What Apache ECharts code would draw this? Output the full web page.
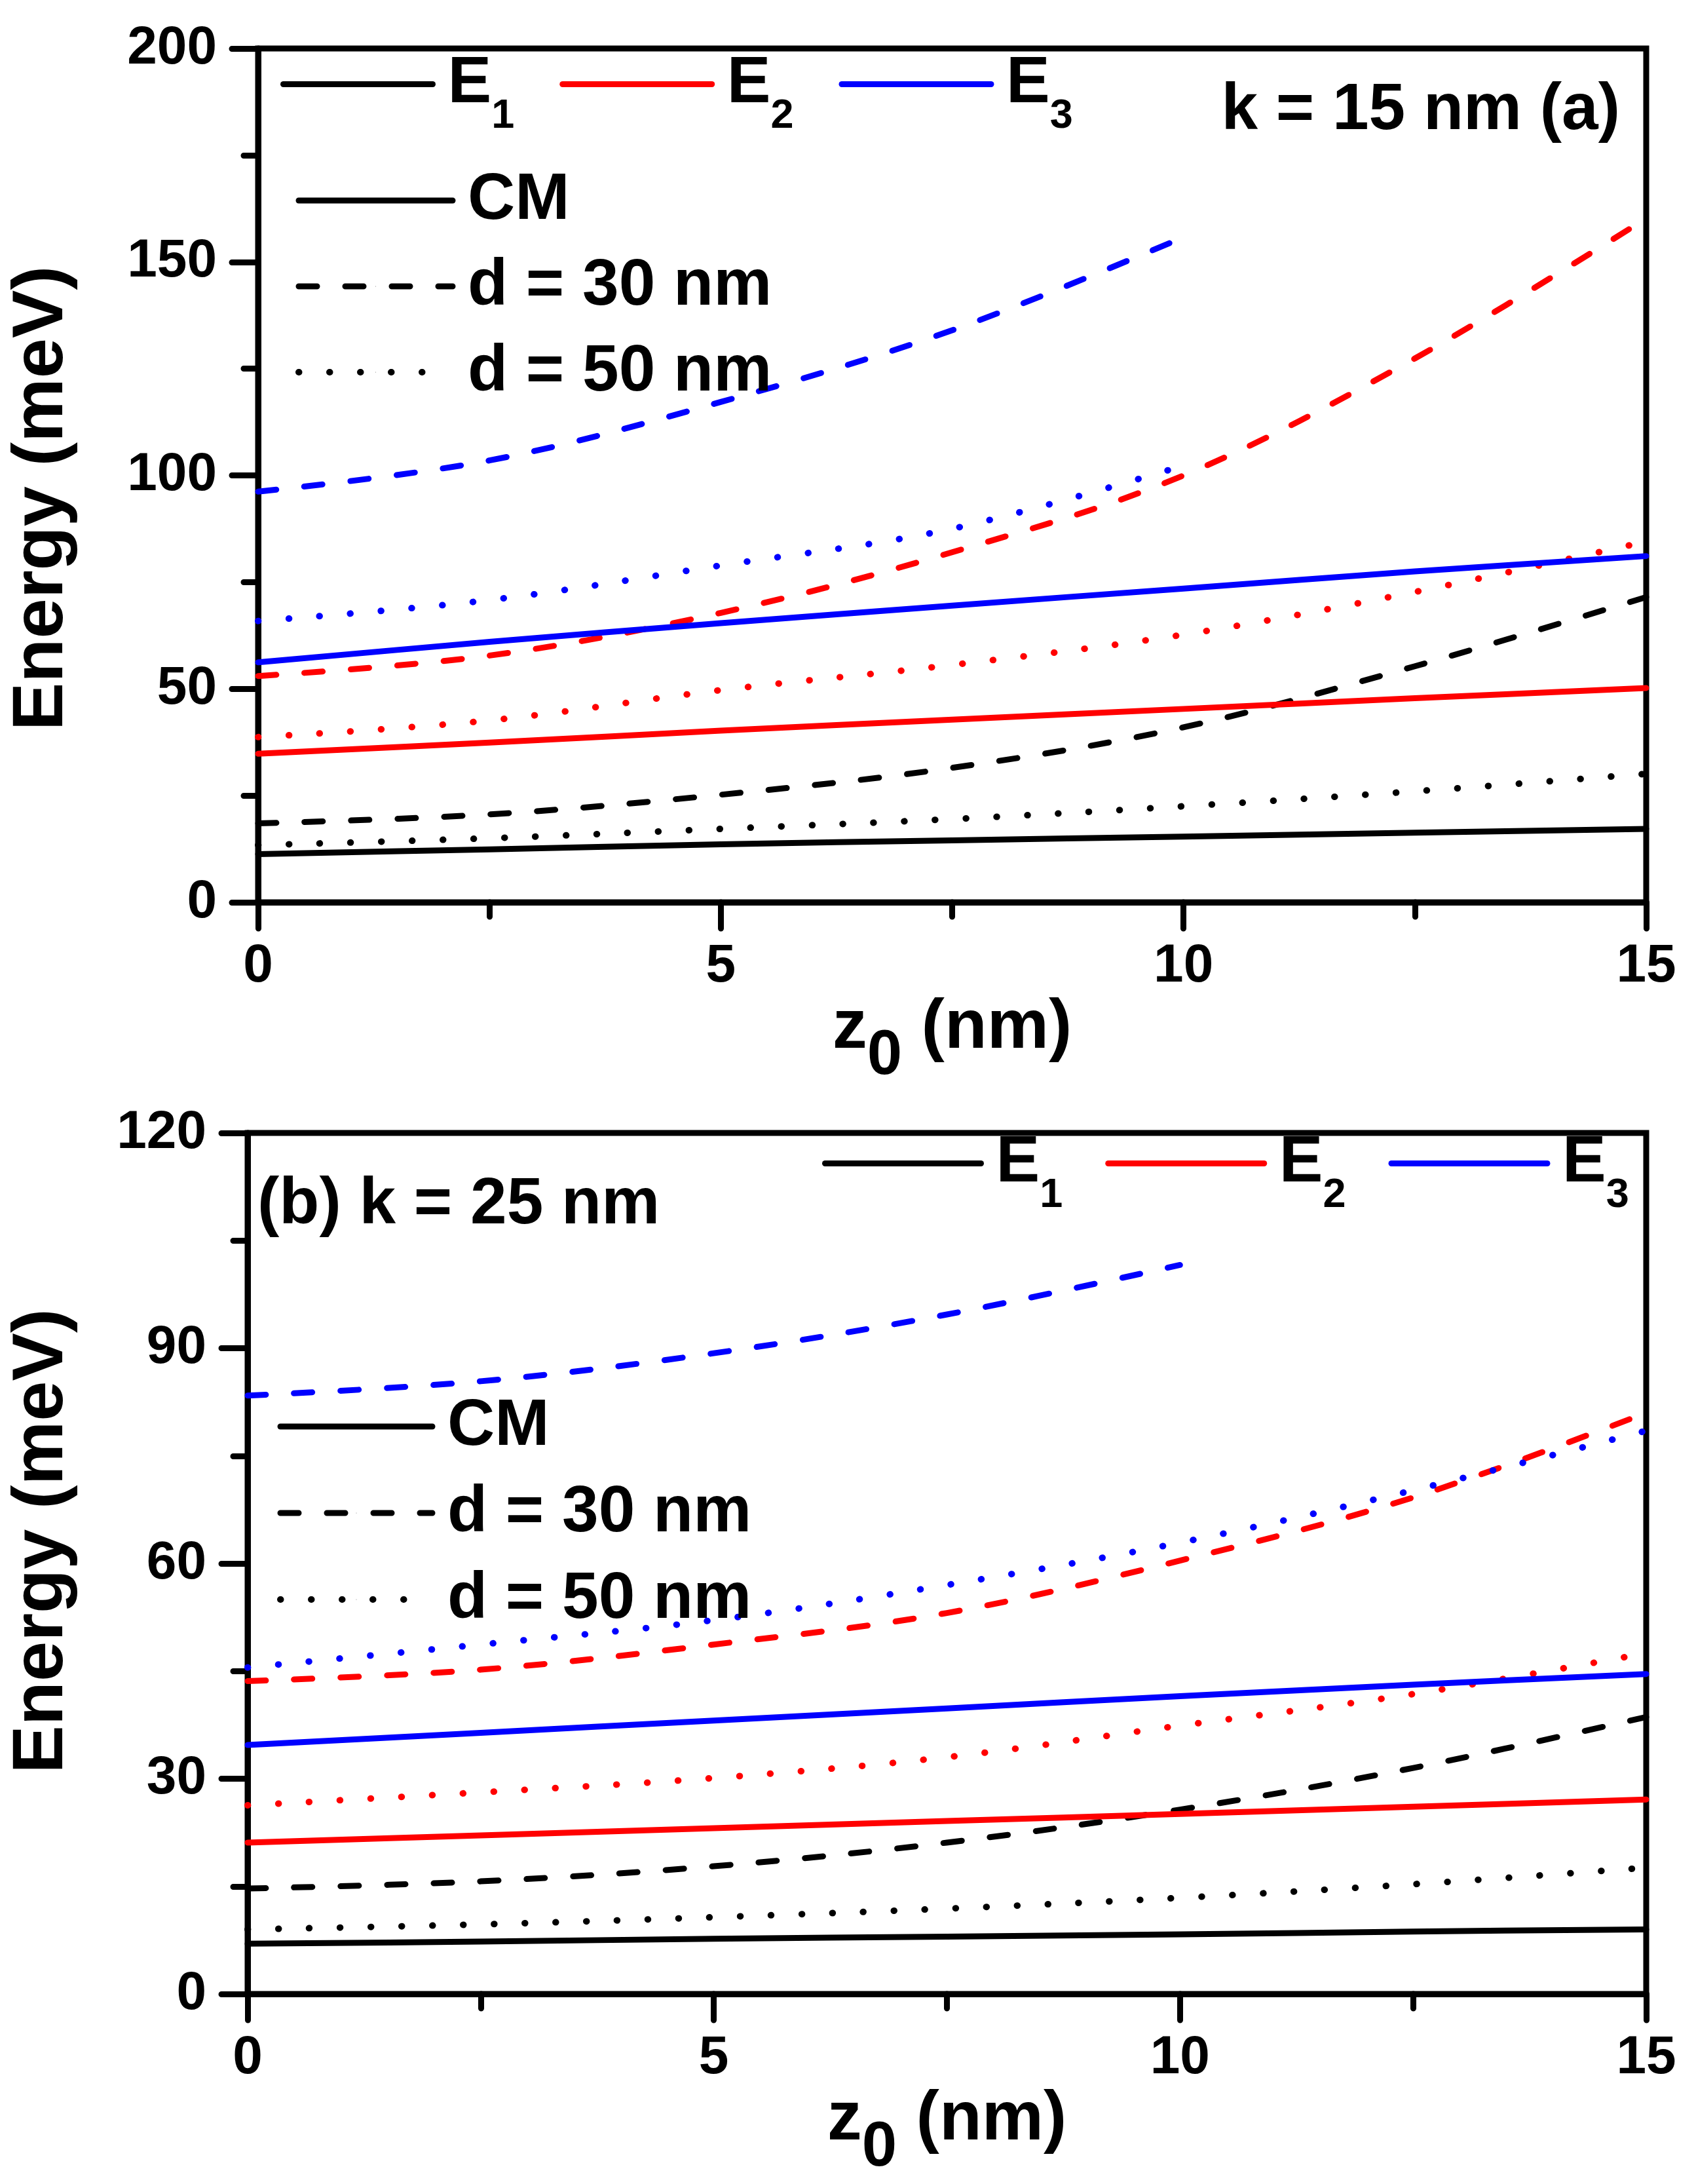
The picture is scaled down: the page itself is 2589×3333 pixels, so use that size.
<!DOCTYPE html>
<html><head><meta charset="utf-8">
<script src="https://cdn.jsdelivr.net/npm/echarts@6/dist/echarts.min.js"></script>
<style>html,body{margin:0;padding:0;background:#fff}#c{width:2589px;height:3333px}</style>
</head><body><div id="c"></div>
<script>
// ---------- data ----------
const zFull = [0, 2.5, 5, 7.5, 10, 12.5, 15];
const zShort = [0, 2.5, 5, 7.5, 10];

// panel (a) k = 15 nm
const a_E1_CM  = [11.3, 12.4, 13.6, 14.5, 15.4, 16.3, 17.2];
const a_E1_d30 = [18.5, 20.6, 25.2, 31.5, 41.0, 55.3, 71.5];
const a_E1_d50 = [13.4, 15.0, 17.2, 19.5, 22.5, 26.0, 30.1];
const a_E2_CM  = [34.8, 37.4, 40.2, 42.8, 45.3, 47.8, 50.2];
const a_E2_d30 = [53.0, 57.8, 67.8, 82.0, 100.0, 127.4, 160.2];
const a_E2_d50 = [38.7, 42.6, 49.7, 55.6, 62.7, 72.7, 84.5];
const a_E3_CM  = [56.2, 61.0, 65.4, 69.5, 73.5, 77.5, 81.1];
const a_E3_d30 = [96.2, 103.5, 117.2, 134.0, 155.8];
const a_E3_d50 = [65.9, 70.8, 78.9, 87.5, 102.3];

// panel (b) k = 25 nm
const b_E1_CM  = [7.0, 7.3, 7.7, 8.0, 8.3, 8.7, 9.0];
const b_E1_d30 = [14.7, 15.7, 17.8, 21.1, 25.7, 31.5, 38.6];
const b_E1_d50 = [9.0, 9.7, 10.7, 11.9, 13.4, 15.3, 17.6];
const b_E2_CM  = [21.1, 22.1, 23.1, 24.1, 25.1, 26.1, 27.1];
const b_E2_d30 = [43.6, 45.2, 48.7, 53.1, 60.4, 69.2, 81.0];
const b_E2_d50 = [26.3, 28.1, 30.1, 33.0, 37.4, 41.8, 47.5];
const b_E3_CM  = [34.7, 36.4, 38.1, 39.8, 41.5, 43.1, 44.6];
const b_E3_d30 = [83.4, 85.4, 89.3, 94.7, 101.6];
const b_E3_d50 = [45.5, 48.7, 52.1, 57.0, 62.9, 70.2, 78.5];

const legendLevels = ['E1', 'E2', 'E3'];
const legendModels = ['CM', 'd = 30 nm', 'd = 50 nm'];
const panelLabels = ['k = 15 nm (a)', '(b) k = 25 nm'];

// ---------- styling ----------
const FONT = "'Liberation Sans', Arial, sans-serif";
const BLACK = '#000000', RED = '#ff0000', BLUE = '#0000ff';
const SOLID = 'solid', DASH = [28, 43], DOT = [0.5, 46.5];

function mk(name, z, vals, color, type, gi, lw) {
  return {
    type: 'line', name: name, xAxisIndex: gi, yAxisIndex: gi,
    data: z.map((x, i) => [x, vals[i]]),
    smooth: 0.35, symbol: 'none', showSymbol: false, silent: true, animation: false,
    lineStyle: { color: color, width: lw || 9, type: type, cap: 'round', join: 'round' },
    itemStyle: { color: color }
  };
}

const series = [
  // panel a (solid E-level curves also serve the E legend)
  mk('E1', zFull, a_E1_CM, BLACK, SOLID, 0),
  mk('a1d', zFull, a_E1_d30, BLACK, DASH, 0),
  mk('a1p', zFull, a_E1_d50, BLACK, DOT, 0, 10),
  mk('E2', zFull, a_E2_CM, RED, SOLID, 0),
  mk('a2d', zFull, a_E2_d30, RED, DASH, 0),
  mk('a2p', zFull, a_E2_d50, RED, DOT, 0, 10),
  mk('E3', zFull, a_E3_CM, BLUE, SOLID, 0),
  mk('a3d', zShort, a_E3_d30, BLUE, DASH, 0),
  mk('a3p', zShort, a_E3_d50, BLUE, DOT, 0, 10),
  // panel b (black curves also serve the model legend)
  mk('CM', zFull, b_E1_CM, BLACK, SOLID, 1),
  mk('d = 30 nm', zFull, b_E1_d30, BLACK, DASH, 1),
  mk('d = 50 nm', zFull, b_E1_d50, BLACK, DOT, 1, 10),
  mk('b2c', zFull, b_E2_CM, RED, SOLID, 1),
  mk('b2d', zFull, b_E2_d30, RED, DASH, 1),
  mk('b2p', zFull, b_E2_d50, RED, DOT, 1, 10),
  mk('b3c', zFull, b_E3_CM, BLUE, SOLID, 1),
  mk('b3d', zShort, b_E3_d30, BLUE, DASH, 1),
  mk('b3p', zFull, b_E3_d50, BLUE, DOT, 1, 10)
];

const tickLine = { color: BLACK, width: 9, cap: 'round' };

function xAxis(gi) {
  return {
    type: 'value', gridIndex: gi, min: 0, max: 15, interval: 5,
    axisLine: { show: true, onZero: false, lineStyle: { color: BLACK, width: 9 } },
    axisTick: { show: true, inside: false, length: 40, lineStyle: tickLine },
    minorTick: { show: true, splitNumber: 2, length: 22, lineStyle: tickLine },
    splitLine: { show: false },
    axisLabel: { fontSize: 82, fontWeight: 'bold', fontFamily: FONT, color: BLACK, margin: 57 },
    name: '{z|z}{s|0}{z| (nm)}', nameLocation: 'middle', nameGap: 73,
    nameTextStyle: {
      color: BLACK,
      rich: {
        z: { fontSize: 106, fontWeight: 'bold', fontFamily: FONT, color: BLACK },
        s: { fontSize: 96, fontWeight: 'bold', fontFamily: FONT, color: BLACK, padding: [85, 0, 0, 0] }
      }
    }
  };
}
function yAxis(gi, max, interval, gap, pad) {
  return {
    type: 'value', gridIndex: gi, min: 0, max: max, interval: interval,
    axisLine: { show: true, onZero: false, lineStyle: { color: BLACK, width: 9 } },
    axisTick: { show: true, inside: false, length: 40, lineStyle: tickLine },
    minorTick: { show: true, splitNumber: 2, length: 22, lineStyle: tickLine },
    splitLine: { show: false },
    axisLabel: { fontSize: 82, fontWeight: 'bold', fontFamily: FONT, color: BLACK, margin: 63 },
    name: 'Energy (meV)', nameLocation: 'middle', nameGap: gap, nameRotate: 90,
    nameTextStyle: { fontSize: 110, fontWeight: 'bold', fontFamily: FONT, color: BLACK, padding: pad }
  };
}

const legendLine = { width: 'inherit', type: 'inherit', color: 'inherit', cap: 'round' };

function levelLegend(left, lineY, itemWidth, gap) {
  return {
    data: legendLevels, left: left, top: lineY - 80.5, orient: 'horizontal',
    itemWidth: itemWidth, itemHeight: 1, itemGap: gap, padding: 0,
    selectedMode: false, lineStyle: legendLine,
    formatter: n => '{e|E}{s|' + n.charAt(1) + '}',
    textStyle: {
      color: BLACK,
      rich: {
        e: { fontSize: 100, fontWeight: 'bold', fontFamily: FONT, color: BLACK, padding: [0, 0, 0, 18] },
        s: { fontSize: 63, fontWeight: 'bold', fontFamily: FONT, color: BLACK, padding: [98, 0, 0, 0] }
      }
    }
  };
}
function modelLegend(left, firstY, itemWidth, gap) {
  return {
    data: legendModels, left: left, top: firstY - 50, orient: 'vertical',
    itemWidth: itemWidth, itemHeight: 1, itemGap: gap, padding: 0,
    selectedMode: false, lineStyle: legendLine,
    formatter: n => '{t|' + n + '}',
    textStyle: {
      color: BLACK,
      rich: { t: { fontSize: 100, lineHeight: 100, fontWeight: 'bold', fontFamily: FONT, color: BLACK, padding: [0, 0, 0, 18] } }
    }
  };
}

const option = {
  backgroundColor: '#ffffff',
  animation: false,
  title: [
    { text: panelLabels[0], right: 116, top: 119, padding: 0,
      textStyle: { fontSize: 100, fontWeight: 'bold', fontFamily: FONT, color: BLACK } },
    { text: panelLabels[1], left: 393, top: 1789, padding: 0,
      textStyle: { fontSize: 100, fontWeight: 'bold', fontFamily: FONT, color: BLACK } }
  ],
  grid: [
    { left: 394, top: 74, width: 2119, height: 1303, show: true, borderColor: BLACK, borderWidth: 9, backgroundColor: 'transparent' },
    { left: 378, top: 1729, width: 2135, height: 1314, show: true, borderColor: BLACK, borderWidth: 9, backgroundColor: 'transparent' }
  ],
  xAxis: [xAxis(0), xAxis(1)],
  yAxis: [yAxis(0, 200, 50, 274, [0, 70, 0, 0]), yAxis(1, 120, 30, 258, [0, 0, 0, 68])],
  legend: [
    levelLegend(428, 159, 228, 69),
    modelLegend(451, 306, 235, 31),
    levelLegend(1255, 1806, 238, 65),
    modelLegend(423, 2177, 232, 32)
  ],
  series: series
};

const chart = echarts.init(document.getElementById('c'), null, { renderer: 'canvas' });
chart.setOption(option);
</script>
</body></html>
